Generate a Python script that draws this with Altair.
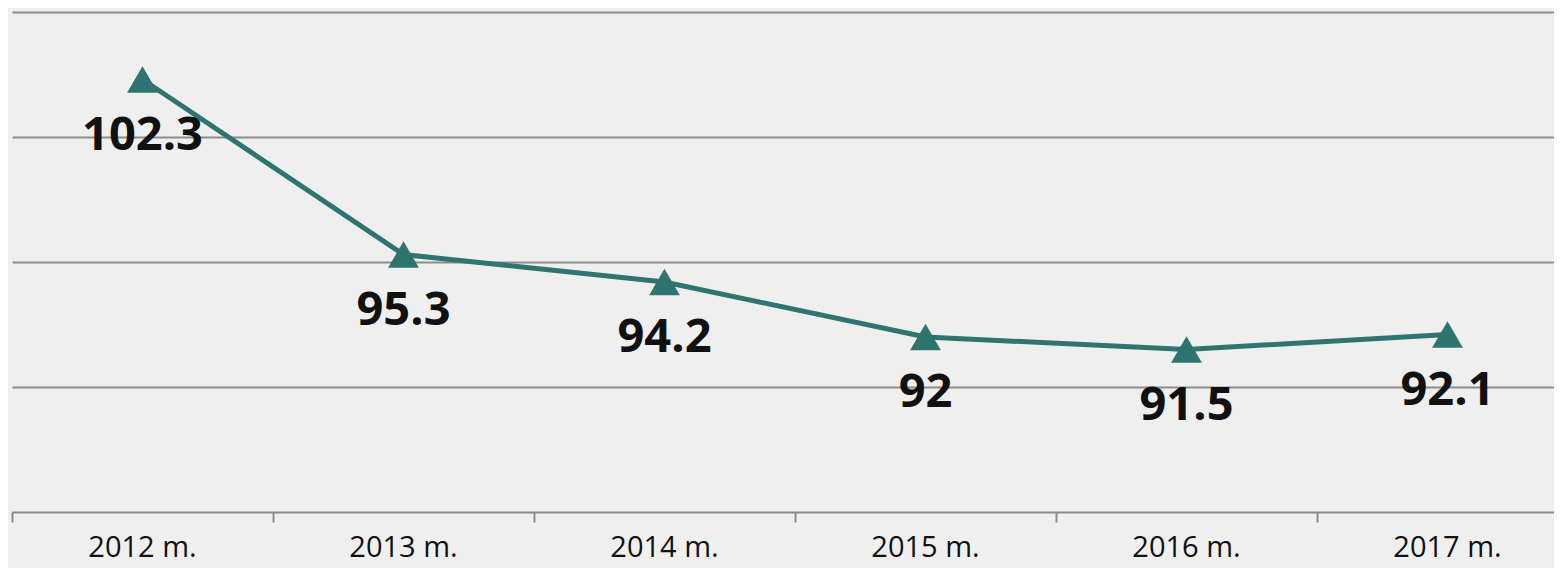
import altair as alt
import pandas as pd

years = ["2012 m.", "2013 m.", "2014 m.", "2015 m.", "2016 m.", "2017 m."]
values = [102.3, 95.3, 94.2, 92.0, 91.5, 92.1]
labels = ["102.3", "95.3", "94.2", "92", "91.5", "92.1"]

df = pd.DataFrame({"idx": list(range(len(years))), "year": years,
                   "value": values, "label": labels})

W = 1542
H = 504
band = 261.0
xmax = -0.5 + W / band

x = alt.X("idx:Q", title=None,
          scale=alt.Scale(domain=[-0.5, xmax], nice=False, zero=False),
          axis=alt.Axis(values=[i - 0.5 for i in range(len(years))], labels=False,
                        tickSize=10, tickColor="#8a8a8a", tickWidth=2,
                        domainColor="#8a8a8a", domainWidth=2, grid=False))
y = alt.Y("value:Q", title=None,
          scale=alt.Scale(domain=[85, 105.16], nice=False, zero=False),
          axis=alt.Axis(values=[90, 95, 100, 105], labels=False, ticks=False,
                        domain=False, grid=True, gridColor="#8c8c8c", gridWidth=2))

base = alt.Chart(df)
line = base.mark_line(color="#2f7470", strokeWidth=5).encode(x=x, y=y)
pts = base.mark_point(shape="triangle-up", size=950, filled=True, opacity=1,
                      color="#2f7470").encode(x=x, y=y)
txt = base.mark_text(dy=70, fontSize=47, fontWeight="bold", font="Open Sans",
                     color="#111111", baseline="alphabetic").encode(x=x, y=y, text="label:N")
xlab = base.mark_text(fontSize=29, font="Open Sans", color="#111111",
                      baseline="alphabetic").encode(x=x, y=alt.value(549), text="year:N")

chart = (line + pts + txt + xlab).properties(
    width=W, height=H, background="#efefef",
    autosize=alt.AutoSizeParams(type="none"),
    padding={"left": 4, "top": 0, "right": 0, "bottom": 56}
).configure_view(stroke=None)

chart.save("out.html", embed_options={"renderer": "svg", "actions": False})
